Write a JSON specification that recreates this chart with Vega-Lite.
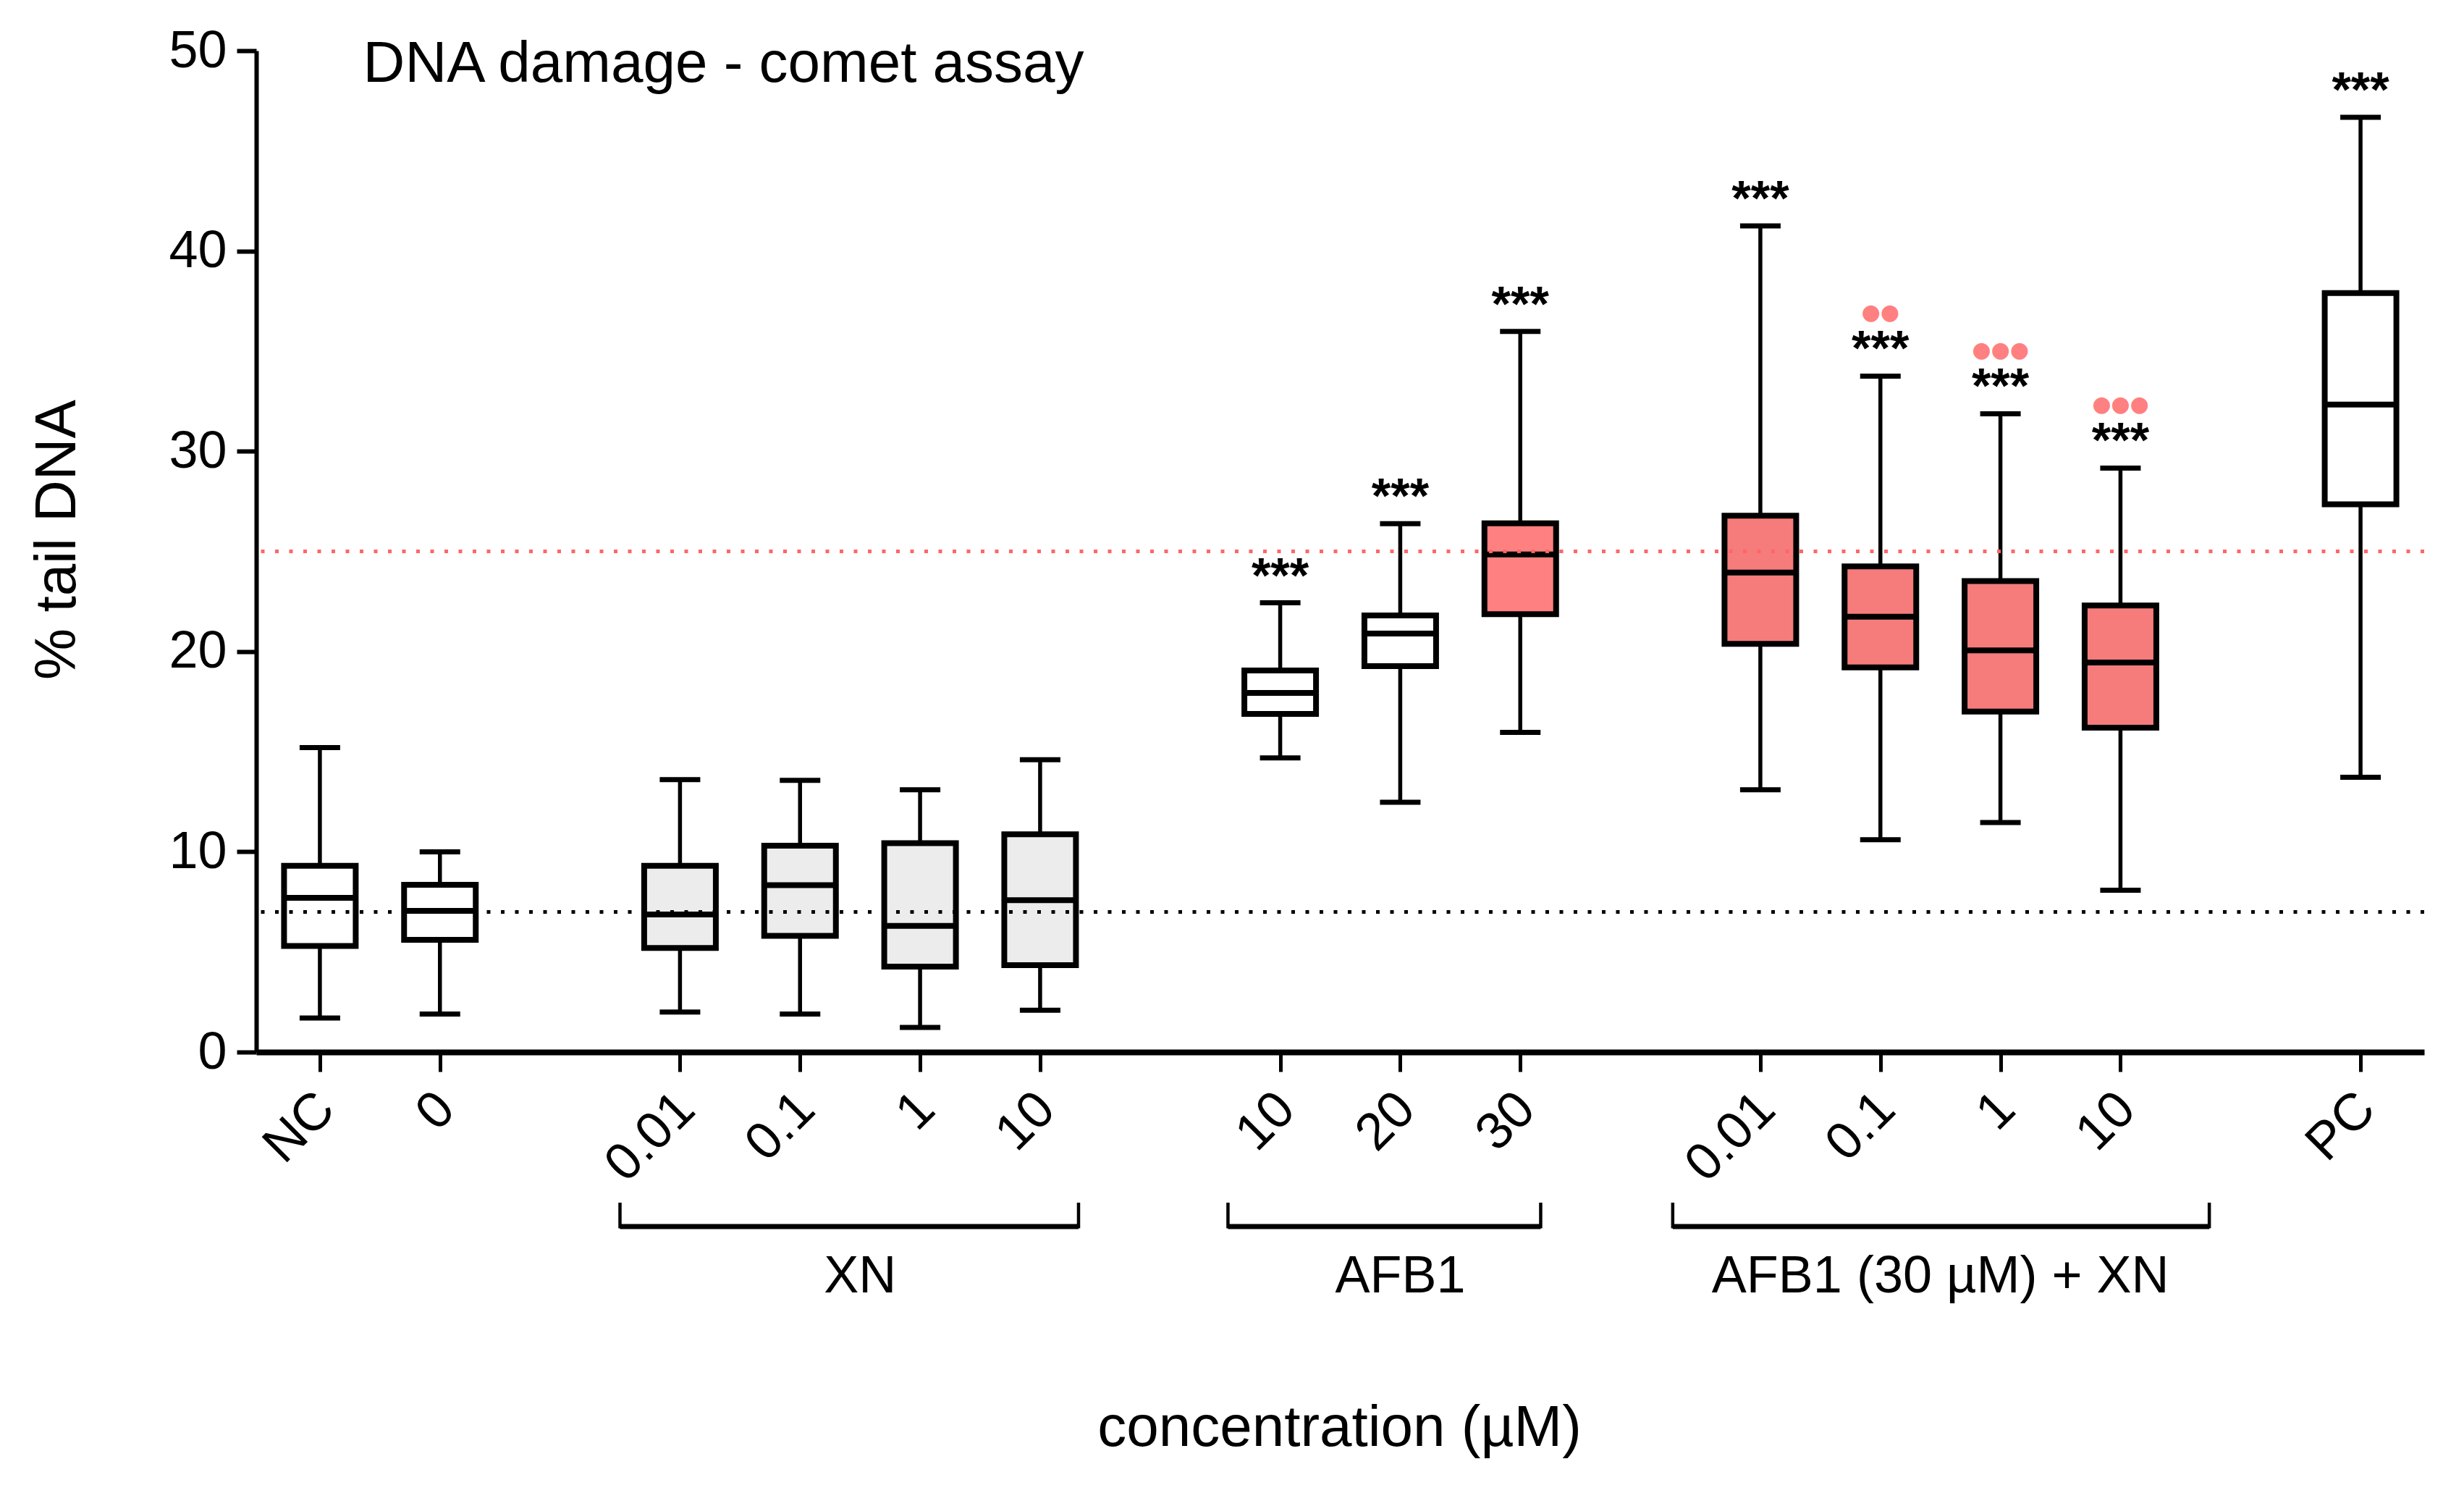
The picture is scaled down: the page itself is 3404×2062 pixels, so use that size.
{
  "$schema": "https://vega.github.io/schema/vega-lite/v6.json",
  "width": 2995,
  "height": 1383,
  "autosize": "none",
  "padding": {"left": 354, "top": 70, "right": 55, "bottom": 609},
  "background": "white",
  "config": {
    "view": {"stroke": null},
    "font": "Liberation Sans",
    "axis": {"grid": false, "domainColor": "black", "tickColor": "black", "labelColor": "black", "titleColor": "black", "labelFont": "Liberation Sans", "titleFont": "Liberation Sans", "titleFontWeight": "normal"}
  },
  "datasets": {
    "boxes": [
      {"group": "NC", "conc": "NC", "kind": "plain", "slot": 0, "min": 1.7, "q1": 5.3, "median": 7.7, "q3": 9.3, "max": 15.2, "sig": "", "sig2": ""},
      {"group": "control", "conc": "0", "kind": "plain", "slot": 1, "min": 1.9, "q1": 5.6, "median": 7.05, "q3": 8.35, "max": 10.0, "sig": "", "sig2": ""},
      {"group": "XN", "conc": "0.01", "kind": "XN", "slot": 3, "min": 2.0, "q1": 5.2, "median": 6.87, "q3": 9.3, "max": 13.6, "sig": "", "sig2": ""},
      {"group": "XN", "conc": "0.1", "kind": "XN", "slot": 4, "min": 1.9, "q1": 5.8, "median": 8.33, "q3": 10.3, "max": 13.57, "sig": "", "sig2": ""},
      {"group": "XN", "conc": "1", "kind": "XN", "slot": 5, "min": 1.23, "q1": 4.27, "median": 6.3, "q3": 10.43, "max": 13.1, "sig": "", "sig2": ""},
      {"group": "XN", "conc": "10", "kind": "XN", "slot": 6, "min": 2.09, "q1": 4.34, "median": 7.58, "q3": 10.87, "max": 14.6, "sig": "", "sig2": ""},
      {"group": "AFB1", "conc": "10", "kind": "plain", "slot": 8, "min": 14.69, "q1": 16.88, "median": 17.93, "q3": 19.05, "max": 22.43, "sig": "***", "sig2": ""},
      {"group": "AFB1", "conc": "20", "kind": "plain", "slot": 9, "min": 12.47, "q1": 19.27, "median": 20.9, "q3": 21.8, "max": 26.38, "sig": "***", "sig2": ""},
      {"group": "AFB1", "conc": "30", "kind": "AFB1 30 µM", "slot": 10, "min": 15.96, "q1": 21.86, "median": 24.85, "q3": 26.4, "max": 35.98, "sig": "***", "sig2": ""},
      {"group": "AFB1 (30 µM) + XN", "conc": "0.01", "kind": "AFB1 30 µM + XN", "slot": 12, "min": 13.1, "q1": 20.38, "median": 23.94, "q3": 26.78, "max": 41.25, "sig": "***", "sig2": ""},
      {"group": "AFB1 (30 µM) + XN", "conc": "0.1", "kind": "AFB1 30 µM + XN", "slot": 13, "min": 10.6, "q1": 19.21, "median": 21.74, "q3": 24.25, "max": 33.75, "sig": "***", "sig2": "●●"},
      {"group": "AFB1 (30 µM) + XN", "conc": "1", "kind": "AFB1 30 µM + XN", "slot": 14, "min": 11.46, "q1": 17.0, "median": 20.06, "q3": 23.52, "max": 31.87, "sig": "***", "sig2": "●●●"},
      {"group": "AFB1 (30 µM) + XN", "conc": "10", "kind": "AFB1 30 µM + XN", "slot": 15, "min": 8.08, "q1": 16.2, "median": 19.45, "q3": 22.3, "max": 29.16, "sig": "***", "sig2": "●●●"},
      {"group": "PC", "conc": "PC", "kind": "plain", "slot": 17, "min": 13.72, "q1": 27.35, "median": 32.33, "q3": 37.9, "max": 46.67, "sig": "***", "sig2": ""}
    ],
    "brackets": [
      {"group": "XN", "from": 2.5, "to": 6.32},
      {"group": "AFB1", "from": 7.565, "to": 10.17},
      {"group": "AFB1 (30 µM) + XN", "from": 11.27, "to": 15.74}
    ],
    "refs": [
      {"ref": "NC", "level": 7},
      {"ref": "AFB1 30 µM", "level": 25}
    ],
    "heading": [
      {"text": "DNA damage - comet assay"}
    ]
  },
  "layer": [
    {
      "data": {"name": "boxes"},
      "mark": {"type": "rule", "strokeWidth": 5.5, "color": "black", "opacity": 1},
      "encoding": {
        "x": {
          "field": "slot", "type": "quantitative",
          "scale": {"domain": [-0.5, 17.5], "nice": false, "zero": false},
          "title": "concentration (µM)",
          "axis": {
            "values": [0, 1, 3, 4, 5, 6, 8, 9, 10, 12, 13, 14, 15, 17],
            "labelExpr": "['NC','0','','0.01','0.1','1','10','','10','20','30','','0.01','0.1','1','10','','PC'][datum.value]",
            "labelAngle": -45, "labelAlign": "right", "labelBaseline": "middle",
            "labelFontSize": 72, "labelPadding": 40, "labelOffset": 8,
            "labelFlush": false, "labelOverlap": false, "labelBound": false,
            "tickSize": 27, "tickWidth": 5, "domainWidth": 8,
            "titleFontSize": 80, "titleX": 1496, "titleY": 543, "titleBaseline": "alphabetic", "titleAlign": "center"
          }
        },
        "y": {
          "field": "min", "type": "quantitative",
          "scale": {"domain": [0, 50], "nice": false, "zero": true},
          "title": "% tail DNA",
          "axis": {
            "values": [0, 10, 20, 30, 40, 50],
            "labelFontSize": 72, "labelPadding": 14, "labelFlush": false,
            "tickSize": 27, "tickWidth": 6, "domainWidth": 6,
            "titleFontSize": 80, "titleAngle": -90, "titleX": -251, "titleY": 675, "titleAlign": "center", "titleBaseline": "alphabetic"
          }
        },
        "y2": {"field": "max"}
      }
    },
    {
      "data": {"name": "boxes"},
      "mark": {"type": "tick", "orient": "horizontal", "size": 56, "thickness": 7, "color": "black", "opacity": 1},
      "encoding": {
        "x": {"field": "slot", "type": "quantitative"},
        "y": {"field": "min", "type": "quantitative"}
      }
    },
    {
      "data": {"name": "boxes"},
      "mark": {"type": "tick", "orient": "horizontal", "size": 56, "thickness": 7, "color": "black", "opacity": 1},
      "encoding": {
        "x": {"field": "slot", "type": "quantitative"},
        "y": {"field": "max", "type": "quantitative"}
      }
    },
    {
      "data": {"name": "boxes"},
      "mark": {"type": "bar", "size": 99, "stroke": "black", "strokeWidth": 8, "opacity": 1},
      "encoding": {
        "x": {"field": "slot", "type": "quantitative"},
        "y": {"field": "q1", "type": "quantitative"},
        "y2": {"field": "q3"},
        "fill": {
          "field": "kind", "type": "nominal",
          "scale": {"domain": ["plain", "XN", "AFB1 30 µM", "AFB1 30 µM + XN"], "range": ["#ffffff", "#ececec", "#ff8080", "#f67b7b"]},
          "legend": null
        }
      }
    },
    {
      "data": {"name": "boxes"},
      "mark": {"type": "tick", "orient": "horizontal", "size": 99, "thickness": 8, "color": "black", "opacity": 1},
      "encoding": {
        "x": {"field": "slot", "type": "quantitative"},
        "y": {"field": "median", "type": "quantitative"}
      }
    },
    {
      "data": {"name": "refs"},
      "mark": {"type": "rule", "strokeDash": [5, 14.5], "strokeWidth": 5, "opacity": 1},
      "encoding": {
        "y": {"field": "level", "type": "quantitative"},
        "color": {"field": "ref", "type": "nominal", "scale": {"domain": ["NC", "AFB1 30 µM"], "range": ["black", "#ff6666"]}, "legend": null}
      }
    },
    {
      "data": {"name": "boxes"},
      "transform": [{"filter": "datum.sig != ''"}],
      "mark": {"type": "text", "fontSize": 68, "fontWeight": "bold", "baseline": "alphabetic", "align": "center", "dy": -15, "color": "black"},
      "encoding": {
        "x": {"field": "slot", "type": "quantitative"},
        "y": {"field": "max", "type": "quantitative"},
        "text": {"field": "sig"}
      }
    },
    {
      "data": {"name": "boxes"},
      "transform": [{"filter": "datum.sig2 != ''"}],
      "mark": {"type": "text", "font": "DejaVu Sans", "fontSize": 30, "baseline": "alphabetic", "align": "center", "dy": -78, "color": "#ff8080"},
      "encoding": {
        "x": {"field": "slot", "type": "quantitative"},
        "y": {"field": "max", "type": "quantitative"},
        "text": {"field": "sig2"}
      }
    },
    {
      "data": {"name": "brackets"},
      "mark": {"type": "rule", "strokeWidth": 7, "color": "black"},
      "encoding": {
        "x": {"field": "from", "type": "quantitative"},
        "x2": {"field": "to"},
        "y": {"datum": -8.71, "type": "quantitative"}
      }
    },
    {
      "data": {"name": "brackets"},
      "mark": {"type": "rule", "strokeWidth": 4.5, "color": "black"},
      "encoding": {
        "x": {"field": "from", "type": "quantitative"},
        "y": {"datum": -8.8, "type": "quantitative"},
        "y2": {"datum": -7.52}
      }
    },
    {
      "data": {"name": "brackets"},
      "mark": {"type": "rule", "strokeWidth": 4.5, "color": "black"},
      "encoding": {
        "x": {"field": "to", "type": "quantitative"},
        "y": {"datum": -8.8, "type": "quantitative"},
        "y2": {"datum": -7.52}
      }
    },
    {
      "data": {"name": "boxes"},
      "transform": [
        {"filter": {"field": "group", "oneOf": ["XN", "AFB1", "AFB1 (30 µM) + XN"]}},
        {"aggregate": [{"op": "mean", "field": "slot", "as": "center"}], "groupby": ["group"]}
      ],
      "mark": {"type": "text", "fontSize": 72, "baseline": "alphabetic", "align": "center", "color": "black"},
      "encoding": {
        "x": {"field": "center", "type": "quantitative"},
        "y": {"datum": -12.0, "type": "quantitative"},
        "text": {"field": "group"}
      }
    },
    {
      "data": {"name": "heading"},
      "mark": {"type": "text", "fontSize": 80, "baseline": "alphabetic", "align": "left", "color": "black"},
      "encoding": {
        "x": {"datum": 0.36, "type": "quantitative"},
        "y": {"datum": 48.45, "type": "quantitative"},
        "text": {"field": "text"}
      }
    }
  ]
}
